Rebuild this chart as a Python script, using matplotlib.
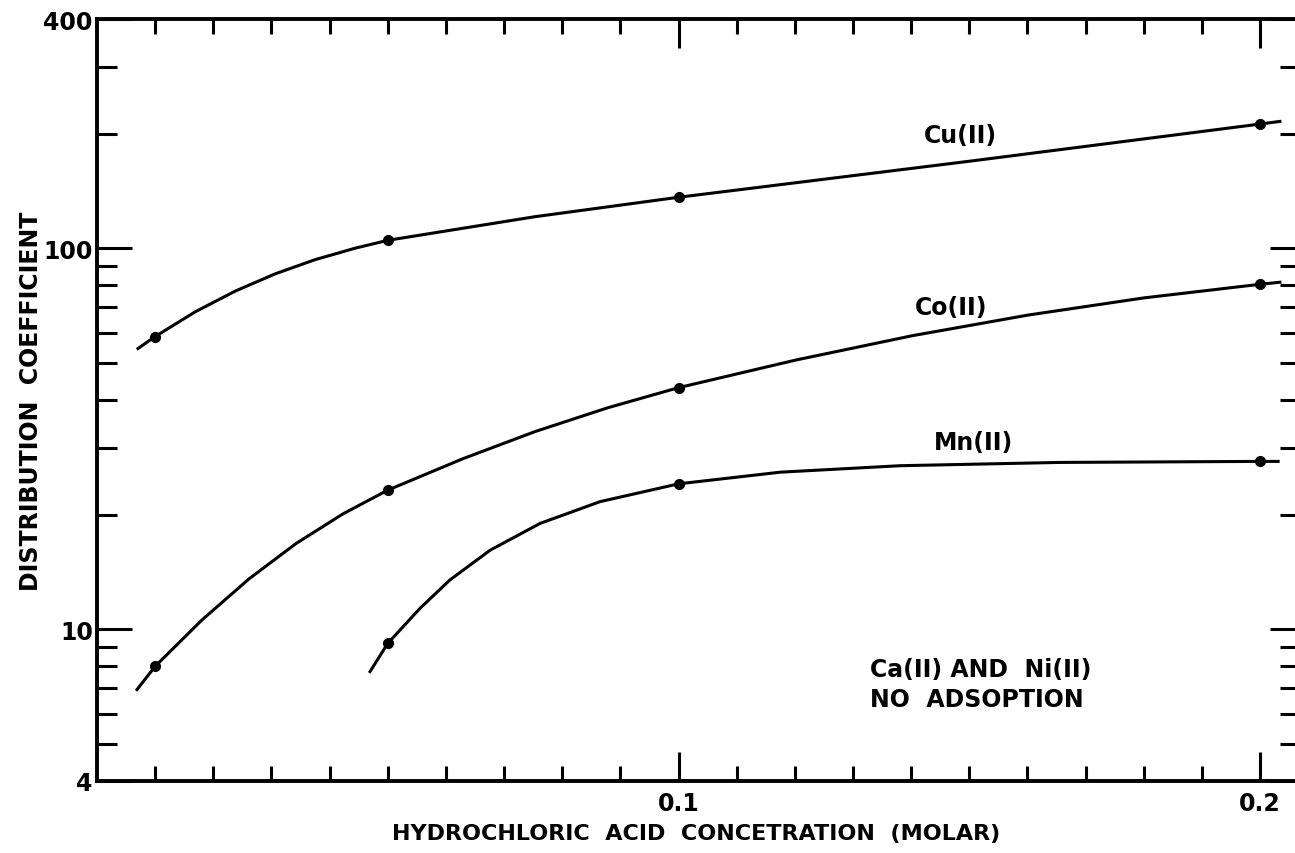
import matplotlib.pyplot as plt
from matplotlib.ticker import FixedLocator, FixedFormatter, NullFormatter

plt.rcParams['font.family'] = 'DejaVu Sans'
plt.rcParams['font.weight'] = 'bold'
plt.rcParams['axes.labelweight'] = 'bold'

# measured distribution coefficients vs HCl molarity
hcl = [0.01, 0.05, 0.1, 0.2]
cu_kd = [58.7, 105.0, 136.2, 212.0]
co_kd = [8.0, 23.2, 43.1, 80.5]
mn_hcl = [0.05, 0.1, 0.2]
mn_kd = [9.19, 24.1, 27.6]

# smooth curves drawn through the measurements
cu_line_x = [0.00705, 0.010, 0.01685, 0.02373, 0.03061, 0.03749, 0.04437, 0.050,
             0.0753, 0.100, 0.1501, 0.200, 0.2034]
cu_line_y = [54.6, 58.7, 68.1, 77.2, 85.7, 93.4, 100.1, 105.0,
             121.1, 136.2, 169.4, 212.0, 215.4]
co_line_x = [0.00688, 0.010, 0.01806, 0.02614, 0.03422, 0.0423, 0.050, 0.06286,
             0.07532, 0.08779, 0.100, 0.1202, 0.1402, 0.1601, 0.180, 0.200, 0.2034]
co_line_y = [6.95, 8.0, 10.59, 13.57, 16.80, 20.10, 23.2, 28.03,
             33.05, 38.15, 43.1, 50.94, 59.0, 66.83, 74.13, 80.5, 81.5]
mn_line_x = [0.04695, 0.050, 0.05555, 0.06071, 0.06758, 0.07618, 0.0865, 0.100,
             0.1175, 0.1381, 0.1656, 0.200, 0.2031]
mn_line_y = [7.75, 9.19, 11.36, 13.49, 16.13, 18.97, 21.64, 24.1,
             25.86, 26.89, 27.43, 27.6, 27.6]

y_major = [4, 10, 100, 400]
y_major_labels = ['4', '10', '100', '400']
y_minor = [5, 6, 7, 8, 9, 20, 30, 40, 50, 60, 70, 80, 90, 200, 300]
x_major = [0.1, 0.2]
x_major_labels = ['0.1', '0.2']
x_minor = [0.01 * i for i in range(1, 21) if i not in (10, 20)]

fig = plt.figure(figsize=(12.95, 8.54), dpi=100)
ax = fig.add_axes([97 / 1295, 1 - 782 / 854, 1198 / 1295, 762 / 854])

lw = 2.2
for xs, ys in [(cu_line_x, cu_line_y), (co_line_x, co_line_y), (mn_line_x, mn_line_y)]:
    ax.plot(xs, ys, color='black', lw=lw, solid_joinstyle='round')
ax.plot(hcl, cu_kd, 'o', color='black', ms=7)
ax.plot(hcl, co_kd, 'o', color='black', ms=7)
ax.plot(mn_hcl, mn_kd, 'o', color='black', ms=7)

ax.set_yscale('log')
ax.set_xlim(0, 0.206)
ax.set_ylim(4, 400)

ax.yaxis.set_major_locator(FixedLocator(y_major))
ax.yaxis.set_major_formatter(FixedFormatter(y_major_labels))
ax.yaxis.set_minor_locator(FixedLocator(y_minor))
ax.yaxis.set_minor_formatter(NullFormatter())
ax.xaxis.set_major_locator(FixedLocator(x_major))
ax.xaxis.set_major_formatter(FixedFormatter(x_major_labels))
ax.xaxis.set_minor_locator(FixedLocator(x_minor))

for side in ['left', 'top', 'bottom']:
    ax.spines[side].set_linewidth(2.8)
ax.spines['right'].set_visible(False)

ax.tick_params(axis='y', which='major', direction='in', length=25, width=2.2,
               labelsize=17, pad=3, right=False)
ax.tick_params(axis='y', which='minor', direction='in', length=14.5, width=2.2, right=False)
ax.tick_params(axis='x', which='major', direction='in', length=21, width=2.2,
               labelsize=17, pad=7, top=True)
ax.tick_params(axis='x', which='minor', direction='in', length=11, width=2.2, top=True)

# tick marks along the right edge
ax2 = ax.twinx()
ax2.set_yscale('log')
ax2.set_ylim(4, 400)
ax2.yaxis.set_major_locator(FixedLocator(y_major))
ax2.yaxis.set_minor_locator(FixedLocator(y_minor))
ax2.yaxis.set_major_formatter(NullFormatter())
ax2.yaxis.set_minor_formatter(NullFormatter())
for side in ['left', 'top', 'bottom', 'right']:
    ax2.spines[side].set_visible(False)
ax2.tick_params(axis='y', which='major', direction='in', length=18, width=2.2)
ax2.tick_params(axis='y', which='minor', direction='in', length=11, width=2.2)

ax.set_xlabel('HYDROCHLORIC  ACID  CONCETRATION  (MOLAR)', fontsize=16, labelpad=6)
ax.set_ylabel('DISTRIBUTION  COEFFICIENT', fontsize=17, labelpad=0)

ax.text(0.1484, 199, 'Cu(II)', fontsize=17, ha='center', va='center')
ax.text(0.1469, 70.3, 'Co(II)', fontsize=17, ha='center', va='center')
ax.text(0.1508, 31.0, 'Mn(II)', fontsize=17, ha='center', va='center')
ax.text(0.1329, 7.2, 'Ca(II) AND  Ni(II)\nNO  ADSOPTION', fontsize=17,
        ha='left', va='center', linespacing=1.3)

fig.savefig('out.png', dpi=100)
